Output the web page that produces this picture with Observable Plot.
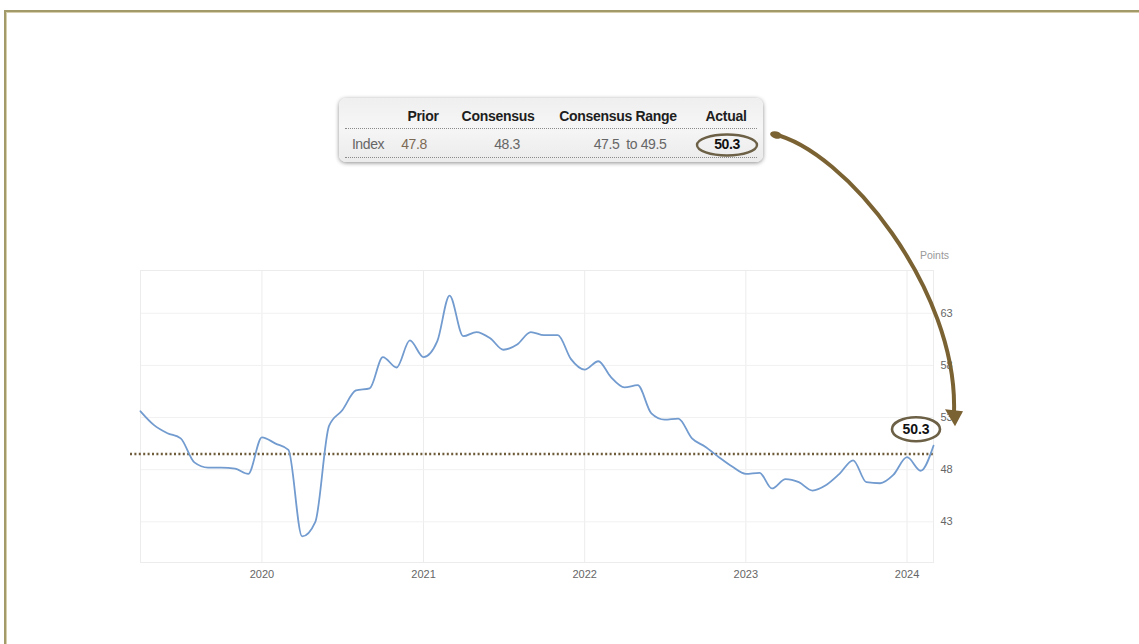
<!DOCTYPE html>
<html>
<head>
<meta charset="utf-8">
<script src="https://cdn.jsdelivr.net/npm/d3@7"></script>
<script src="https://cdn.jsdelivr.net/npm/@observablehq/plot@0.6"></script>
<style>
  html, body { margin: 0; padding: 0; background: #fff; }
  body { width: 1139px; height: 644px; overflow: hidden; font-family: "Liberation Sans", Arial, sans-serif; }
  #wrap { position: relative; width: 1139px; height: 644px; }
  #border { position: absolute; left: 4px; top: 10px; right: -20px; bottom: -20px;
            border-top: 2px solid #a29a69; border-left: 2px solid #a29a69;
            box-shadow: inset 1px 1px 0 #d6d0ae; }
  #chart { position: absolute; left: 0; top: 0; }
  #table { position: absolute; left: 339px; top: 98px; width: 424px; height: 64px; border-radius: 7px;
           background: linear-gradient(to bottom, #efefef, #f6f6f6 45%, #ebebeb);
           box-shadow: 0 1px 4px rgba(0,0,0,0.45); }
  .cell { position: absolute; white-space: pre; transform: translate(-50%, -50%); line-height: 1; }
  .hdr { font-weight: bold; font-size: 14px; color: #1e1e1e; letter-spacing: -0.3px; }
  .val { font-size: 14px; color: #666; letter-spacing: -0.4px; }
  .sep { position: absolute; left: 6px; right: 6px; height: 0; border-top: 1.5px dotted #8a8a8a; }
</style>
</head>
<body>
<div id="wrap">
  <div id="border"></div>
  <div id="chart"></div>
  <div id="table"></div>
</div>
<script>
// ---- data ----
const months = [
  "2019-04","2019-05","2019-06","2019-07","2019-08","2019-09","2019-10","2019-11","2019-12",
  "2020-01","2020-02","2020-03","2020-04","2020-05","2020-06","2020-07","2020-08","2020-09","2020-10","2020-11","2020-12",
  "2021-01","2021-02","2021-03","2021-04","2021-05","2021-06","2021-07","2021-08","2021-09","2021-10","2021-11","2021-12",
  "2022-01","2022-02","2022-03","2022-04","2022-05","2022-06","2022-07","2022-08","2022-09","2022-10","2022-11","2022-12",
  "2023-01","2023-02","2023-03","2023-04","2023-05","2023-06","2023-07","2023-08","2023-09","2023-10","2023-11","2023-12",
  "2024-01","2024-02","2024-03"
];
const indexValues = [
  53.6, 52.3, 51.5, 51.0, 48.7, 48.2, 48.2, 48.1, 47.6,
  51.1, 50.5, 49.9, 41.6, 43.0, 52.2, 53.7, 55.6, 55.8, 58.8, 57.8, 60.4,
  58.8, 60.3, 64.7, 60.8, 61.2, 60.6, 59.5, 60.0, 61.2, 60.9, 60.9, 58.6,
  57.6, 58.4, 56.9, 55.9, 56.1, 53.4, 52.8, 52.9, 51.0, 50.2, 49.2, 48.3,
  47.6, 47.7, 46.2, 47.1, 46.8, 46.0, 46.5, 47.6, 48.9, 46.8, 46.7, 47.5,
  49.2, 47.9, 50.3
];
const yearTicks = ["2020-01-01","2021-01-01","2022-01-01","2023-01-01","2024-01-01"];
const yTicks = [43, 48, 53, 58, 63];
const referenceLevel = 49.5;
const axisTitle = "Points";
const tableHeaders = ["", "Prior", "Consensus", "Consensus Range", "Actual"];
const tableRow = ["Index", "47.8", "48.3", "47.5  to 49.5", "50.3"];
const latestLabel = "50.3";

// ---- build ----
const data = months.map((m, i) => ({date: new Date(m + "-01T00:00:00Z"), value: indexValues[i]}));
const yearDates = yearTicks.map(d => new Date(d + "T00:00:00Z"));
const last = data[data.length - 1];

const ellipseMark = (index, scales) => {
  const g = d3.create("svg:g");
  const cx = scales.x(last.date) - 17, cy = scales.y(last.value) - 16;
  g.append("ellipse").attr("cx", cx).attr("cy", cy).attr("rx", 24).attr("ry", 12)
    .attr("fill", "#fff").attr("fill-opacity", 0.6).attr("stroke", "#6c6046").attr("stroke-width", 2.6);
  g.append("text").attr("x", cx).attr("y", cy).attr("dy", "0.36em").attr("text-anchor", "middle")
    .attr("font-weight", "bold").attr("font-size", 14).attr("fill", "#111").text(latestLabel);
  return g.node();
};

const arrowMark = (index, scales) => {
  const g = d3.create("svg:g");
  const tx = scales.x(last.date) + 22, ty = scales.y(last.value) - 19; // arrow tip
  const sx = 773, sy = 134; // start, next to the table's Actual value
  const ex = tx - 1, ey = ty - 14;
  g.append("path")
    .attr("d", `M${sx},${sy} C${sx + 72},${sy + 16} ${ex + 4},${sy + 156} ${ex},${ey}`)
    .attr("fill", "none").attr("stroke", "#7b6233").attr("stroke-width", 4).attr("stroke-linecap", "round");
  g.append("ellipse").attr("cx", sx + 3).attr("cy", sy + 1).attr("rx", 6).attr("ry", 3.5)
    .attr("transform", `rotate(15 ${sx + 3} ${sy + 1})`).attr("fill", "#7b6233");
  g.append("path")
    .attr("d", `M${tx - 10},${ey - 3} L${tx + 8},${ey - 1} L${tx},${ty} Z`)
    .attr("fill", "#7b6233");
  return g.node();
};

let chart;
try {
  chart = Plot.plot({
    width: 1139,
    height: 644,
    marginLeft: 140,
    marginRight: 206,
    marginTop: 270,
    marginBottom: 82,
    style: {background: "transparent", overflow: "visible", fontFamily: "Liberation Sans, Arial, sans-serif", fontSize: "11px", color: "#666"},
    x: {type: "utc", domain: [new Date("2019-04-01T00:00:00Z"), new Date("2024-03-01T00:00:00Z")],
        ticks: yearDates, tickFormat: "%Y", tickSize: 0, tickPadding: 8, label: null},
    y: {domain: [39.1, 67.1], ticks: yTicks, axis: "right", tickSize: 0, tickPadding: 7, label: null},
    marks: [
      Plot.ruleX(yearDates, {stroke: "#ececec", strokeOpacity: 1}),
      Plot.ruleY(yTicks, {stroke: "#f1f1f1", strokeOpacity: 1}),
      Plot.frame({stroke: "#ececec"}),
      Plot.ruleY([referenceLevel], {stroke: "#6e5c3a", strokeWidth: 2.4, strokeDasharray: "2,2.4", insetLeft: -10, insetRight: -2}),
      Plot.line(data, {x: "date", y: "value", stroke: "#729bcf", strokeWidth: 1.8, curve: "monotone-x"}),
      Plot.text([axisTitle], {frameAnchor: "top-right", textAnchor: "middle", text: d => d, dx: 1, dy: -19, fill: "#999", fontSize: 10.5}),
      ellipseMark,
      arrowMark
    ]
  });
  document.getElementById("chart").appendChild(chart);
} catch (e) {
  document.getElementById("chart").textContent = "Error: " + e.message;
}

// ---- data table overlay ----
const table = document.getElementById("table");
const hdrCenters = [29, 84, 159, 279, 387];   // relative x centers inside box
const rowCenters = [29, 75, 168, 291, 388];
tableHeaders.forEach((t, i) => {
  if (!t) return;
  const s = document.createElement("div");
  s.className = "cell hdr"; s.textContent = t;
  s.style.left = hdrCenters[i] + "px"; s.style.top = "18px";
  table.appendChild(s);
});
const sep1 = document.createElement("div"); sep1.className = "sep"; sep1.style.top = "30px"; table.appendChild(sep1);
const sep2 = document.createElement("div"); sep2.className = "sep"; sep2.style.top = "59px"; table.appendChild(sep2);
tableRow.forEach((t, i) => {
  const s = document.createElement("div");
  s.className = "cell val"; s.textContent = t;
  s.style.left = rowCenters[i] + "px"; s.style.top = "46px";
  if (i === 1) s.style.color = "#7d6a55";
  if (i === tableRow.length - 1) { s.style.fontWeight = "bold"; s.style.color = "#111"; }
  table.appendChild(s);
});
// ellipse around the actual value in the table
const ns = "http://www.w3.org/2000/svg";
const tsvg = document.createElementNS(ns, "svg");
tsvg.setAttribute("width", 424); tsvg.setAttribute("height", 64);
tsvg.style.position = "absolute"; tsvg.style.left = "0"; tsvg.style.top = "0"; tsvg.style.overflow = "visible";
const el = document.createElementNS(ns, "ellipse");
el.setAttribute("cx", 388); el.setAttribute("cy", 47); el.setAttribute("rx", 30); el.setAttribute("ry", 10.5);
el.setAttribute("fill", "none"); el.setAttribute("stroke", "#6c6046"); el.setAttribute("stroke-width", 2.4);
tsvg.appendChild(el);
table.appendChild(tsvg);
</script>
</body>
</html>
